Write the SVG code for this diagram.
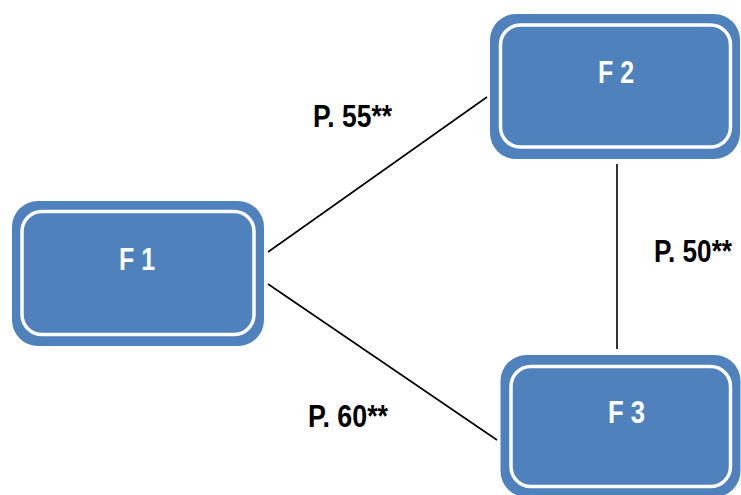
<svg xmlns="http://www.w3.org/2000/svg" width="741" height="495" viewBox="0 0 741 495">
  <style>
    .box { fill: #4F81BD; }
    .ring { fill: none; stroke: #FFFFFF; stroke-width: 3.5; }
    .name { font-family: "Liberation Sans", Arial, sans-serif; font-weight: bold; font-size: 31px; fill: #FFFFFF; }
    .lab { font-family: "Liberation Sans", Arial, sans-serif; font-weight: bold; font-size: 31px; fill: #000000; }
    .edge { stroke: #000000; stroke-width: 1.6; fill: none; }
  </style>
  <rect width="741" height="495" fill="#FFFFFF"/>

  <g id="connectors">
    <line class="edge" x1="268" y1="252" x2="487" y2="97"/>
    <line class="edge" x1="268" y1="284" x2="497" y2="440"/>
    <line class="edge" x1="617" y1="164" x2="617" y2="349"/>
    <text class="lab" x="313" y="127" textLength="79" lengthAdjust="spacingAndGlyphs">P. 55**</text>
    <text class="lab" x="308" y="427" textLength="80" lengthAdjust="spacingAndGlyphs">P. 60**</text>
    <text class="lab" x="654" y="262" textLength="78" lengthAdjust="spacingAndGlyphs">P. 50**</text>
  </g>

  <g id="node-f1">
    <rect class="box" x="12" y="201" width="252" height="145" rx="26"/>
    <rect class="ring" x="22" y="211.5" width="232" height="123" rx="20"/>
    <text class="name" x="119" y="270" textLength="36" lengthAdjust="spacingAndGlyphs">F 1</text>
  </g>

  <g id="node-f2">
    <rect class="box" x="490" y="14" width="250" height="145" rx="26"/>
    <rect class="ring" x="500.5" y="25" width="230" height="122" rx="20"/>
    <text class="name" x="598" y="83" textLength="36" lengthAdjust="spacingAndGlyphs">F 2</text>
  </g>

  <g id="node-f3">
    <rect class="box" x="500.5" y="355" width="240" height="142" rx="26"/>
    <rect class="ring" x="511" y="366.5" width="219.5" height="120" rx="20"/>
    <text class="name" x="608" y="423" textLength="37" lengthAdjust="spacingAndGlyphs">F 3</text>
  </g>
</svg>
